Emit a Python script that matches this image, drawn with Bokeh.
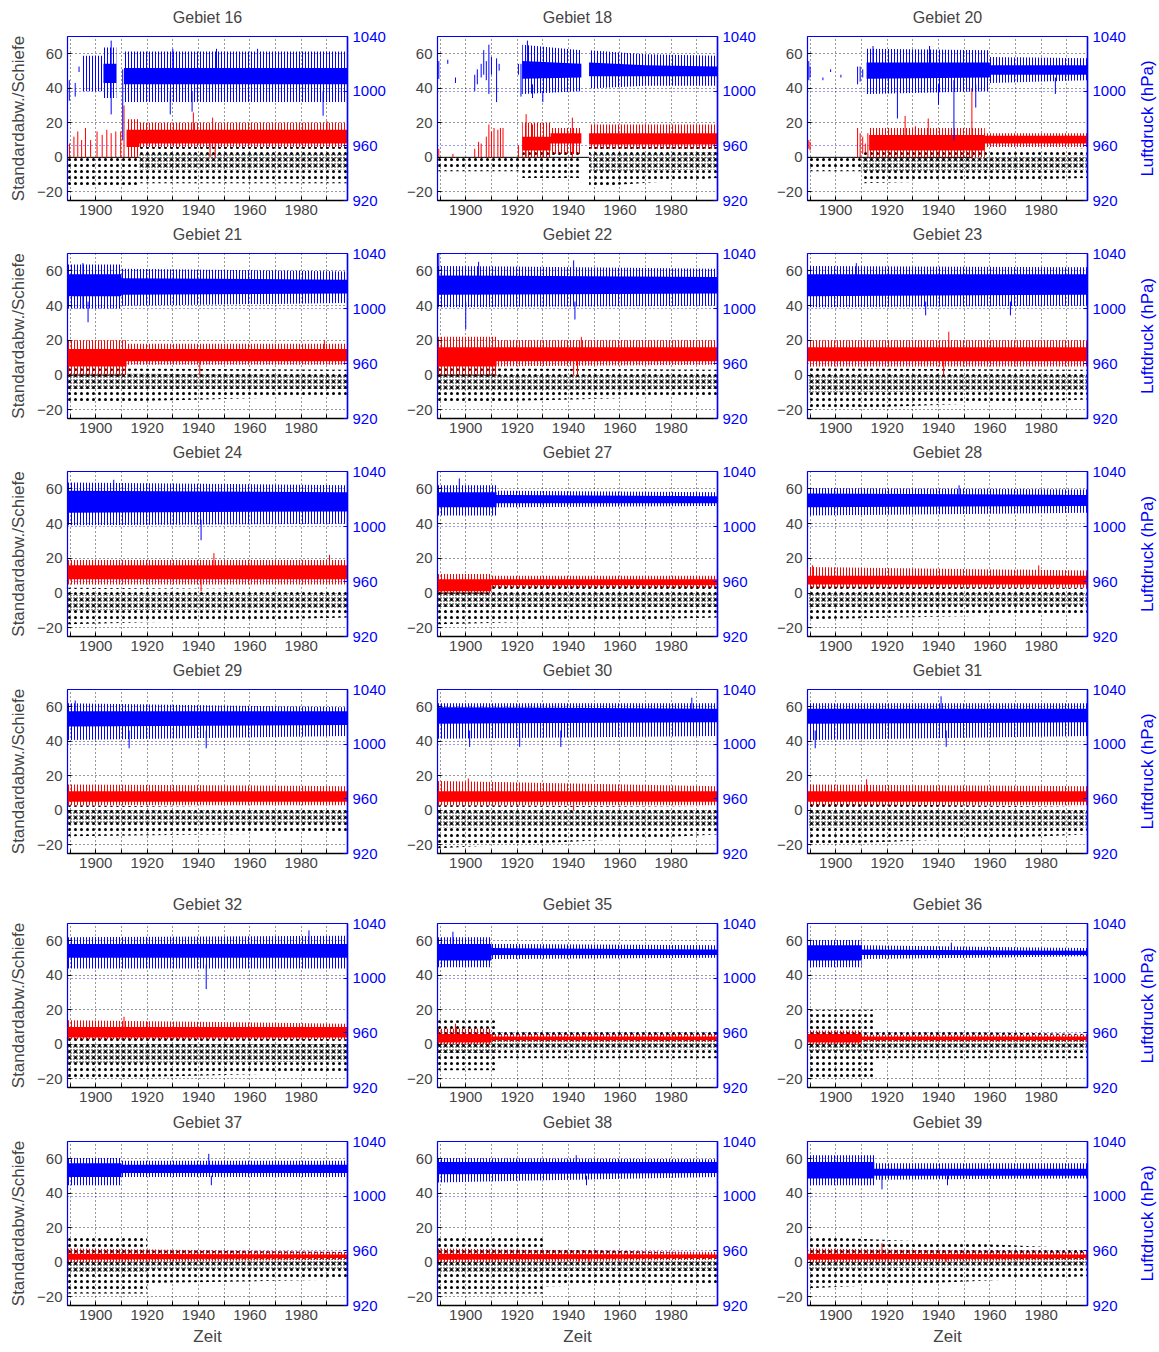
import math
from bokeh.plotting import figure
from bokeh.models import Range1d, LinearAxis, FixedTicker, Grid
from bokeh.core.properties import value
from bokeh.layouts import column, row
from bokeh.embed import file_html
from bokeh.resources import INLINE

nan = float("nan")

REGIONS = ["16", "18", "20", "21", "22", "23", "24", "27", "28",
           "29", "30", "31", "32", "35", "36", "37", "38", "39"]
X_TICKS = [1890, 1900, 1910, 1920, 1930, 1940, 1950, 1960, 1970, 1980, 1990]
X_LABELS = {1890: "", 1900: "1900", 1910: "", 1920: "1920", 1930: "", 1940: "1940",
            1950: "", 1960: "1960", 1970: "", 1980: "1980", 1990: ""}
LEFT_TICKS = [-20, 0, 20, 40, 60]
RIGHT_TICKS = [920, 960, 1000, 1040]

# ---- Luftdruck (hPa), blue: outer range (HI/LO) and dense core (CHI/CLO)
BLUE_YR = {
    "16": [1895, 1903, 1903, 1908, 1908.5, 1911, 1998],
    "18": [1922, 1945, 1945.5, 1948, 1970, 1998],
    "20": [1912, 1960, 1960, 1998],
    "21": [1889, 1910, 1910, 1998], "22": [1889, 1998], "23": [1889, 1998],
    "24": [1889, 1998], "27": [1889, 1912, 1912, 1998], "28": [1889, 1998],
    "29": [1889, 1998], "30": [1889, 1998], "31": [1889, 1998], "32": [1889, 1998],
    "35": [1889, 1910, 1910, 1998], "36": [1889, 1910, 1910, 1998],
    "37": [1889, 1910, 1910, 1998], "38": [1889, 1998], "39": [1889, 1915, 1915, 1998],
}
BLUE_HI = {
    "16": [1026, 1026, 1032, 1032, nan, 1029, 1029],
    "18": [1034, 1030, nan, 1030, 1027, 1026],
    "20": [1031, 1030, 1025, 1024],
    "21": [1032, 1032, 1029, 1027], "22": [1031, 1029], "23": [1031, 1030],
    "24": [1032, 1030], "27": [1030, 1030, 1026, 1025], "28": [1028, 1027],
    "29": [1030, 1027], "30": [1030, 1030], "31": [1030, 1030], "32": [1030, 1031],
    "35": [1030, 1030, 1025, 1024], "36": [1028, 1028, 1024, 1022],
    "37": [1028, 1028, 1026, 1026], "38": [1028, 1027], "39": [1030, 1030, 1024, 1024],
}
BLUE_LO = {
    "16": [1000, 1000, 995, 995, nan, 992, 992],
    "18": [998, 1000, nan, 1002, 1004, 1004],
    "20": [998, 1000, 1006, 1008],
    "21": [1000, 1000, 1002, 1004], "22": [1001, 1002], "23": [1001, 1002],
    "24": [1001, 1002], "27": [1008, 1008, 1014, 1015], "28": [1008, 1010],
    "29": [1003, 1006], "30": [1004, 1006], "31": [1003, 1006], "32": [1007, 1007],
    "35": [1008, 1008, 1014, 1015], "36": [1008, 1008, 1014, 1016],
    "37": [1008, 1008, 1014, 1014], "38": [1010, 1014], "39": [1008, 1008, 1012, 1013],
}
BLUE_CHI = {
    "16": [nan, nan, 1020, 1020, nan, 1017, 1017],
    "18": [1022, 1020, nan, 1021, 1019, 1018],
    "20": [1021, 1021, 1019, 1019],
    "21": [1025, 1025, 1022, 1021], "22": [1024, 1023], "23": [1025, 1025],
    "24": [1026, 1025], "27": [1025, 1025, 1023, 1022], "28": [1024, 1023],
    "29": [1024, 1024], "30": [1027, 1026], "31": [1026, 1026], "32": [1025, 1025],
    "35": [1025, 1025, 1022, 1021], "36": [1024, 1024, 1021, 1020],
    "37": [1024, 1024, 1023, 1023], "38": [1025, 1025], "39": [1025, 1025, 1020, 1020],
}
BLUE_CLO = {
    "16": [nan, nan, 1006, 1006, nan, 1005, 1005],
    "18": [1009, 1010, nan, 1011, 1011, 1011],
    "20": [1009, 1010, 1012, 1012],
    "21": [1009, 1009, 1010, 1011], "22": [1010, 1011], "23": [1009, 1010],
    "24": [1010, 1011], "27": [1014, 1014, 1017, 1017], "28": [1014, 1015],
    "29": [1013, 1014], "30": [1015, 1016], "31": [1015, 1016], "32": [1015, 1015],
    "35": [1013, 1013, 1017, 1017], "36": [1013, 1013, 1017, 1017],
    "37": [1014, 1014, 1017, 1017], "38": [1016, 1017], "39": [1013, 1013, 1015, 1015],
}
# single months (year, low, high) standing out of the blue band
BLUE_BARS = {
    "16": [(1889.7, 993, 1008), (1892, 996, 1006), (1893.5, 1014, 1018), (1906, 983, 1037),
           (1910.5, 964, 1016), (1929, 983, 1000), (1937.5, 985, 1000), (1988.5, 982, 1000),
           (1930, 1010, 1031), (1947, 1010, 1031), (1963, 1010, 1031)],
    "18": [(1889.5, 1009, 1022), (1893, 1020, 1023), (1896, 1006, 1010), (1903.5, 1000, 1012),
           (1904.5, 1005, 1016), (1906, 1010, 1020), (1907, 1012, 1030), (1908, 1008, 1022),
           (1909, 998, 1034), (1910, 1012, 1025), (1912, 992, 1024), (1913, 1015, 1020),
           (1920.5, 1012, 1020), (1921.5, 996, 1020), (1924, 1010, 1037), (1926, 995, 1005),
           (1930, 992, 1000)],
    "20": [(1889.5, 1008, 1022), (1890, 1010, 1018), (1895, 1008, 1010), (1898, 1014, 1016),
           (1902, 1010, 1012), (1908.5, 1005, 1018), (1909.5, 1007, 1018), (1910.5, 1010, 1016),
           (1914.5, 1010, 1033), (1924, 980, 1010), (1936.5, 1010, 1033), (1940, 990, 1005),
           (1946, 964, 1008), (1954.5, 988, 1005), (1985.5, 998, 1010)],
    "21": [(1895, 1000, 1033), (1897, 990, 1005)],
    "22": [(1889.5, 1010, 1040), (1900, 985, 1005), (1905, 1010, 1034), (1942, 1010, 1035),
           (1942.5, 992, 1005)],
    "23": [(1908, 1010, 1033), (1935, 995, 1005), (1968, 995, 1005)],
    "24": [(1907, 1015, 1034), (1941, 990, 1005)],
    "27": [(1897.5, 1015, 1035)],
    "28": [(1948, 1015, 1030)],
    "29": [(1892, 1015, 1032), (1913, 997, 1010), (1943, 997, 1010)],
    "30": [(1901.5, 998, 1010), (1921, 998, 1010), (1937, 998, 1010), (1988, 1020, 1034)],
    "31": [(1892, 997, 1010), (1941, 1020, 1035), (1943, 998, 1010)],
    "32": [(1943, 992, 1010), (1983, 1020, 1035)],
    "35": [(1895, 1015, 1034)],
    "36": [(1945, 1018, 1026)],
    "37": [(1944, 1018, 1031), (1945, 1008, 1015)],
    "38": [(1943, 1018, 1030), (1947, 1008, 1015)],
    "39": [(1918, 1005, 1015), (1943.5, 1008, 1015)],
}

# ---- Standardabweichung (red), left axis units
RED_YR = {
    "16": [1912, 1917, 1917, 1998],
    "18": [1922, 1933, 1933, 1945, 1945.5, 1948, 1998],
    "20": [1913, 1958, 1958, 1998],
    "21": [1889, 1912, 1912, 1998], "22": [1889, 1912, 1912, 1998], "23": [1889, 1998],
    "24": [1889, 1998], "27": [1889, 1910, 1910, 1998], "28": [1889, 1998],
    "29": [1889, 1998], "30": [1889, 1998], "31": [1889, 1998], "32": [1889, 1998],
    "35": [1889, 1910, 1910, 1998], "36": [1889, 1910, 1910, 1998],
    "37": [1889, 1998], "38": [1889, 1998], "39": [1889, 1998],
}
RED_HI = {
    "16": [22, 22, 20, 20], "18": [20, 20, 17, 17, nan, 19, 19], "20": [17, 17, 14, 14],
    "21": [20, 20, 18, 18], "22": [22, 22, 20, 20], "23": [20, 20], "24": [19, 19],
    "27": [11, 11, 10, 10], "28": [15, 13], "29": [15, 14], "30": [17, 14], "31": [15, 14],
    "32": [14, 12], "35": [9, 9, 6, 6], "36": [8, 8, 5.5, 5.5], "37": [8, 6], "38": [8, 6],
    "39": [8, 6],
}
RED_LO = {
    "16": [0, 0, 6, 6], "18": [0, 0, 2, 2, nan, 5, 5], "20": [0, 0, 6, 6],
    "21": [0, 0, 6, 6], "22": [0, 0, 5, 6], "23": [5, 5], "24": [5, 5],
    "27": [0, 0, 3, 3], "28": [3, 3], "29": [3, 3], "30": [3, 3], "31": [3, 3],
    "32": [3, 3], "35": [0, 0, 1.5, 1.5], "36": [0, 0, 1.5, 1.5], "37": [0, 1.5],
    "38": [0, 1.5], "39": [0, 1.5],
}
RED_CHI = {
    "16": [16, 16, 16, 16], "18": [12, 12, 14, 14, nan, 14, 14], "20": [13, 13, 12.5, 12.5],
    "21": [15, 15, 15, 15], "22": [16, 16, 16, 16], "23": [16, 16], "24": [16, 16],
    "27": [8, 8, 8, 8], "28": [10, 10], "29": [11, 11], "30": [11, 11], "31": [11, 11],
    "32": [10, 10], "35": [6, 6, 4.5, 4.5], "36": [6, 6, 4.5, 4.5], "37": [5, 4.5],
    "38": [5, 4.5], "39": [5, 4.5],
}
RED_CLO = {
    "16": [6, 6, 8, 8], "18": [4, 4, 8, 8, nan, 7.5, 7.5], "20": [4, 4, 8, 8],
    "21": [5, 5, 8, 8], "22": [5, 5, 8, 8], "23": [8, 8], "24": [8, 8],
    "27": [1, 1, 4.5, 4.5], "28": [5, 5], "29": [5, 5], "30": [5, 5], "31": [5, 5],
    "32": [4, 4], "35": [1, 1, 2.5, 2.5], "36": [1, 1, 2.5, 2.5], "37": [1.5, 2.5],
    "38": [1.5, 2.5], "39": [1.5, 2.5],
}
RED_BARS = {
    "16": [(1889.8, 0, 8), (1891.5, 0, 12), (1893, 0, 15), (1894.5, 0, 10), (1896, 0, 17),
           (1898, 0, 10), (1900.5, 0, 15), (1902.5, 0, 13), (1904.3, 0, 16), (1906, 0, 14),
           (1907.8, 0, 15), (1909.7, 0, 15), (1911, 0, 30), (1938, 10, 26), (1945.5, 10, 23),
           (1944.5, 0, 8), (1946.5, 0, 8), (1990, 14, 21)],
    "18": [(1889.5, 0, 5), (1895, 0, 2), (1903.5, 0, 5), (1905, 0, 9), (1906, 0, 8),
           (1908, 0, 12), (1909, 0, 19), (1910, 0, 15), (1911, 0, 17), (1912.5, 0, 16),
           (1913.5, 0, 17), (1914.5, 0, 17), (1920.5, 0, 7), (1923.5, 0, 25), (1926, 5, 19),
           (1941.5, 0, 23)],
    "20": [(1889.5, 5, 10), (1890, 4, 9), (1908.5, 0, 17), (1909.5, 0, 14), (1910.5, 2, 12),
           (1911.5, 3, 8), (1912.5, 0, 14), (1927, 5, 24), (1931, 0, 18), (1936, 5, 22.5),
           (1953, 0, 40)],
    "21": [(1940.5, 0, 8), (1989, 12, 20)],
    "22": [(1942, 0, 8), (1943.5, 0, 8), (1945, 12, 22)],
    "23": [(1942, 0, 8), (1944, 12, 25)],
    "24": [(1941, 1, 8), (1946, 12, 23), (1991, 12, 22)],
    "28": [(1891, 5, 16), (1979, 8, 16)],
    "30": [(1901, 10, 18.5), (1942, 0, 6)],
    "31": [(1912, 10, 18)],
    "32": [(1911, 8, 16), (1920, 8, 13)],
    "35": [(1896, 3, 12)],
    "38": [(1944, 0, 3), (1948, 0, 3)],
    "39": [(1918, 3, 11), (1943, 0, 3)],
}

# ---- Schiefe (black dots), left axis units
BLACK_YR = {
    "16": [1889, 1917, 1917, 1998],
    "18": [1889, 1922, 1922, 1945, 1945.5, 1948, 1998],
    "20": [1889, 1910, 1910, 1998],
    "21": [1889, 1998], "22": [1889, 1998], "23": [1889, 1998], "24": [1889, 1998],
    "27": [1889, 1998], "28": [1889, 1998], "29": [1889, 1998], "30": [1889, 1998],
    "31": [1889, 1998], "32": [1889, 1998], "35": [1889, 1912, 1912, 1998],
    "36": [1889, 1915, 1915, 1998], "37": [1889, 1920, 1920, 1998],
    "38": [1889, 1930, 1930, 1998], "39": [1889, 1998],
}
BLACK_LO = {
    "16": [-17, -17, -15, -15], "18": [-8, -8, -12, -12, nan, -17, -12],
    "20": [-8, -8, -15, -12], "21": [-16, -12], "22": [-16, -12], "23": [-20, -14],
    "24": [-18, -14], "27": [-18, -14], "28": [-15, -12], "29": [-15, -13],
    "30": [-22, -14], "31": [-20, -14], "32": [-20, -16], "35": [-15, -15, -8, -8],
    "36": [-20, -20, -8, -8], "37": [-18, -18, -12, -10], "38": [-18, -18, -14, -12],
    "39": [-15, -8],
}
BLACK_HI = {
    "16": [0, 0, 6, 6], "18": [0, 0, 3, 5, nan, 6, 6], "20": [0, 0, 4, 5],
    "21": [4, 3], "22": [4, 3], "23": [4, 3], "24": [3, 2], "27": [8, 4], "28": [4, 3],
    "29": [3, 1], "30": [3, 2], "31": [4, 2], "32": [4, 3], "35": [14, 14, 8, 7],
    "36": [20, 20, 8, 6], "37": [15, 15, 7, 6], "38": [15, 15, 8, 5], "39": [15, 8],
}
BLACK_CLO = {
    "16": [nan, nan, -7, -7], "18": [nan, nan, nan, nan, nan, -8, -7],
    "20": [nan, nan, -8, -7], "21": [-8, -8], "22": [-9, -8], "23": [-10, -9],
    "24": [-10, -9], "27": [-8, -8], "28": [-8, -7], "29": [-8, -8], "30": [-10, -9],
    "31": [-10, -10], "32": [-11, -10], "35": [-5, -5, -3, -3], "36": [-4, -4, -3, -3],
    "37": [-6, -6, -4, -4], "38": [-6, -6, -5, -5], "39": [-4, -2],
}
BLACK_CHI = {
    "16": [nan, nan, 2, 2], "18": [nan, nan, nan, nan, nan, 2, 3],
    "20": [nan, nan, 0, 1], "21": [1, 0], "22": [0, 0], "23": [0, 0], "24": [-1, -1],
    "27": [0, 0], "28": [0, 0], "29": [0, -1], "30": [-1, -1], "31": [-1, -1],
    "32": [0, 0], "35": [5, 5, 3, 3], "36": [5, 5, 3, 3], "37": [4, 4, 2, 2],
    "38": [3, 3, 2, 1], "39": [4, 4],
}
# periods in which the series sit at zero (missing months)
ZERO_SPAN = {"16": (1889, 1917), "18": (1889, 1948), "20": (1889, 1953),
             "21": (1889, 1910), "22": (1889, 1912), "27": (1889, 1908)}

FONT = "Liberation Sans"
X0, X1, YL0, YL1 = 1889, 1998, -25, 70
FRAME_W = 280
LEFT_B = [67, 37, 35]
RIGHT_B = [53, 55, 44]
TOP_B = [36, 31, 31, 31, 43, 31]
FRAME_H = [164, 165, 165, 164, 164, 164]
BOTTOM_B = [22, 22, 22, 27, 23, 45]
SIDE_W = 28          # strip to the right of column 3 holding the rotated label


def runs(xs, a, b):
    out, cx, ca, cb = [], [], [], []
    for x, lo, hi in zip(xs, a, b):
        if math.isnan(lo) or math.isnan(hi):
            if len(cx) > 1:
                out.append((cx, ca, cb))
            cx, ca, cb = [], [], []
        else:
            cx.append(x); ca.append(lo); cb.append(hi)
    if len(cx) > 1:
        out.append((cx, ca, cb))
    return out


def band(p, xs, lo, hi, **kw):
    for cx, ca, cb in runs(xs, lo, hi):
        p.varea(x=cx, y1=ca, y2=cb, **kw)


def bars(p, items, color, **kw):
    if not items:
        return
    xs = [b[0] for b in items]
    p.segment(x0=xs, x1=xs, y0=[b[1] for b in items], y1=[b[2] for b in items],
              line_color=color, line_width=1, **kw)


def style_axis(ax):
    ax.major_tick_in = 4
    ax.major_tick_out = 0
    ax.minor_tick_line_color = None
    ax.major_label_text_font = FONT
    ax.major_label_text_font_size = "15px"
    ax.axis_label_text_font = FONT
    ax.axis_label_text_font_size = "17px"
    ax.axis_label_text_font_style = "normal"


def panel(reg, ci, ri):
    fh = FRAME_H[ri]
    p = figure(frame_width=FRAME_W, frame_height=fh,
               x_range=Range1d(X0, X1), y_range=Range1d(YL0, YL1),
               output_backend="svg", toolbar_location=None, title=None,
               min_border_left=LEFT_B[ci], min_border_right=RIGHT_B[ci],
               min_border_top=TOP_B[ri], min_border_bottom=BOTTOM_B[ri])
    p.extra_y_ranges = {"p": Range1d(920, 1040)}
    p.outline_line_color = "blue"
    p.outline_line_width = 1.2
    p.background_fill_color = "white"
    p.border_fill_color = "white"

    xa = p.xaxis[0]
    xa.ticker = FixedTicker(ticks=X_TICKS)
    xa.major_label_overrides = X_LABELS
    ya = p.yaxis[0]
    ya.ticker = FixedTicker(ticks=LEFT_TICKS)
    ra = LinearAxis(y_range_name="p", ticker=FixedTicker(ticks=RIGHT_TICKS))
    p.add_layout(ra, "right")
    # title as the label of an empty top axis
    ta = LinearAxis(ticker=FixedTicker(ticks=[]), axis_label="Gebiet " + reg)
    p.add_layout(ta, "above")
    for ax in (xa, ya, ra, ta):
        style_axis(ax)
    ta.axis_line_color = None
    ta.major_tick_line_color = None
    ta.major_label_standoff = 0
    ta.axis_label_standoff = 11
    ta.axis_label_text_font_size = "16px"

    xa.axis_label_standoff = 4
    ya.axis_label_standoff = 6
    xa.major_label_standoff = 4
    ya.major_label_standoff = 5
    ra.major_label_standoff = 5
    xa.axis_line_color = "black"
    xa.axis_line_width = 1.5
    ya.axis_line_color = None
    ra.axis_line_color = "blue"
    ra.axis_line_width = 1.5
    ra.major_tick_line_color = "blue"
    ra.major_label_text_color = "blue"
    if ci == 0:
        ya.axis_label = "Standardabw./Schiefe"
    if ri == 5:
        xa.axis_label = "Zeit"

    p.xgrid.grid_line_color = "black"
    p.xgrid.grid_line_dash = "1 3"
    p.xgrid.grid_line_alpha = 0.8
    p.ygrid.grid_line_color = "black"
    p.ygrid.grid_line_dash = "1 3"
    p.ygrid.grid_line_alpha = 0.8
    p.add_layout(Grid(dimension=1, ticker=FixedTicker(ticks=RIGHT_TICKS), y_range_name="p",
                      grid_line_color="blue", grid_line_dash="1 3", grid_line_alpha=0.8))

    # black: skewness dots
    if reg in ZERO_SPAN:
        a, b = ZERO_SPAN[reg]
        p.line(x=[a, b], y=[0, 0], line_color="black", line_width=1)
    band(p, BLACK_YR[reg], BLACK_LO[reg], BLACK_HI[reg], fill_alpha=0,
         hatch_pattern="dot", hatch_color="black", hatch_scale=6, hatch_weight=0.5)
    band(p, BLACK_YR[reg], BLACK_CLO[reg], BLACK_CHI[reg], fill_alpha=0,
         hatch_pattern="dot", hatch_color="black", hatch_scale=3, hatch_weight=0.5)
    # red: standard deviation
    band(p, RED_YR[reg], RED_LO[reg], RED_HI[reg], fill_alpha=0,
         hatch_pattern="vertical_line", hatch_color="red", hatch_scale=3, hatch_weight=1)
    band(p, RED_YR[reg], RED_CLO[reg], RED_CHI[reg], fill_color="red", fill_alpha=1)
    bars(p, RED_BARS.get(reg, []), "red")
    # blue: pressure
    band(p, BLUE_YR[reg], BLUE_LO[reg], BLUE_HI[reg], fill_alpha=0, y_range_name="p",
         hatch_pattern="vertical_line", hatch_color="blue", hatch_scale=3, hatch_weight=1)
    band(p, BLUE_YR[reg], BLUE_CLO[reg], BLUE_CHI[reg], fill_color="blue", fill_alpha=1,
         y_range_name="p")
    bars(p, BLUE_BARS.get(reg, []), "blue", y_range_name="p")
    return p


def side_label(ri):
    fh = FRAME_H[ri]
    s = figure(frame_width=SIDE_W, frame_height=fh, x_range=Range1d(0, SIDE_W),
               y_range=Range1d(0, fh), output_backend="svg", toolbar_location=None,
               title=None, x_axis_location=None, y_axis_location=None,
               min_border_left=0, min_border_right=0,
               min_border_top=TOP_B[ri], min_border_bottom=BOTTOM_B[ri])
    s.outline_line_color = None
    s.xgrid.visible = False
    s.ygrid.visible = False
    s.text(x=[16], y=[fh / 2], text=["Luftdruck (hPa)"], angle=math.pi / 2,
           text_align="center", text_baseline="middle", text_color="blue",
           text_font=value(FONT), text_font_size="17px")
    return s


rows = []
for ri in range(6):
    figs = [panel(REGIONS[ri * 3 + ci], ci, ri) for ci in range(3)]
    figs.append(side_label(ri))
    rows.append(row(*figs))
layout = column(*rows)

open("out.html", "w").write(file_html(layout, INLINE))
